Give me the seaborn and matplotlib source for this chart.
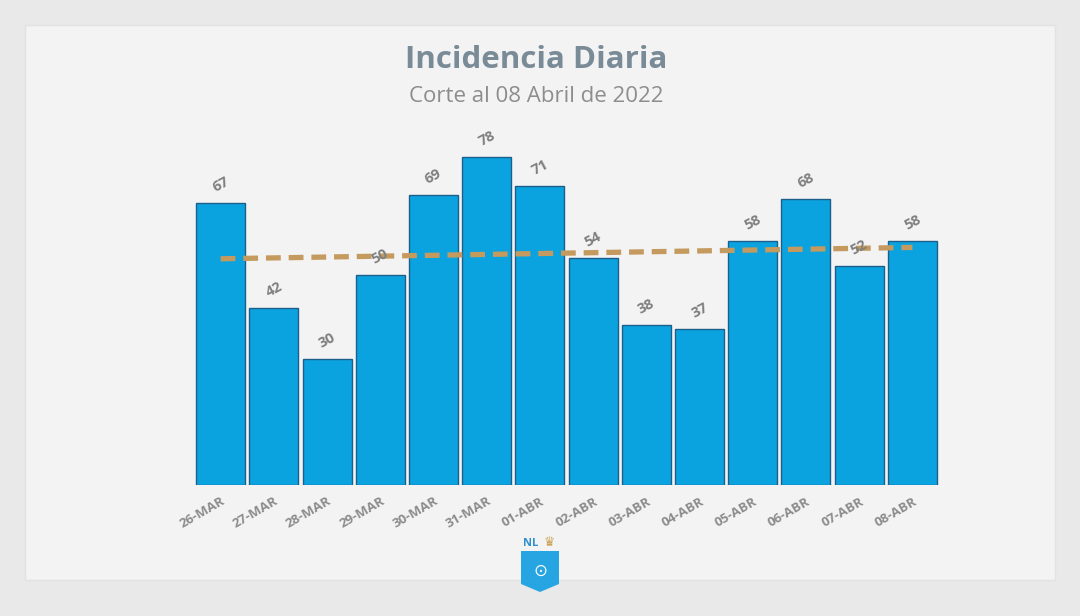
import matplotlib
matplotlib.use("Agg")
import matplotlib.pyplot as plt
from matplotlib.patches import Rectangle, Polygon
import seaborn as sns
import pandas as pd

dates = ["26-MAR", "27-MAR", "28-MAR", "29-MAR", "30-MAR", "31-MAR", "01-ABR",
         "02-ABR", "03-ABR", "04-ABR", "05-ABR", "06-ABR", "07-ABR", "08-ABR"]
cases = [67, 42, 30, 50, 69, 78, 71, 54, 38, 37, 58, 68, 52, 58]
trend_ends = [53.8, 56.5]

title = "Incidencia Diaria"
subtitle = "Corte al 08 Abril de 2022"

sns.set_style("white")
plt.rcParams['font.family'] = ['Open Sans', 'DejaVu Sans']

fig = plt.figure(figsize=(10.8, 6.16), dpi=100)
fig.patch.set_facecolor("#e9e9e9")
# card
card = Rectangle((25/1080, 1-580/616), 1030/1080, 555/616,
                 transform=fig.transFigure, facecolor="#f3f3f3",
                 edgecolor="#e2e2e2", linewidth=1, zorder=-10)
fig.add_artist(card)

ax = fig.add_axes([194/1080, 1-485/616, 745/1080, (90*4.205)/616])
ax.set_zorder(2)
ax.set_facecolor("none")
df = pd.DataFrame({"fecha": dates, "casos": cases})
sns.barplot(data=df, x="fecha", y="casos", color="#0aa3e0", saturation=1,
            width=0.92, edgecolor="#1d5f8a", linewidth=1.0, ax=ax, zorder=2)
ax.set_xlim(-0.5, len(dates) - 0.5)
ax.set_ylim(0, 90)

for c in ax.containers:
    ax.bar_label(c, labels=[str(v) for v in cases], padding=6, rotation=28,
                 color="#7f7f7f", fontsize=10.5, fontweight="bold", zorder=4)

ax.plot([0, len(dates) - 1], trend_ends, linestyle=(0, (2.8, 1.5)),
        color="#c49a5e", linewidth=3.8, zorder=3)

ax.set_xlabel("")
ax.set_ylabel("")
ax.set_yticks([])
ax.tick_params(axis="x", length=0, pad=7)
for lbl in ax.get_xticklabels():
    lbl.set_rotation(30)
    lbl.set_ha("right")
    lbl.set_rotation_mode("anchor")
    lbl.set_color("#8c8c8c")
    lbl.set_fontsize(9.5)
    lbl.set_fontweight("bold")
for s in ax.spines.values():
    s.set_visible(False)

fig.text(536/1080, 1-60/616, title, ha="center", va="center",
         fontsize=22.5, fontweight="bold", color="#7a8b98")
fig.text(536/1080, 1-96/616, subtitle, ha="center", va="center",
         fontsize=16, color="#8d8d8d")

# logo
shield = Polygon([(521/1080, 1-551/616), (559/1080, 1-551/616), (559/1080, 1-584/616),
                  (540/1080, 1-592/616), (521/1080, 1-584/616)], closed=True,
                 transform=fig.transFigure, facecolor="#27a5e3", edgecolor="none", zorder=5)
fig.add_artist(shield)
fig.text(531/1080, 1-543/616, "NL", ha="center", va="center", fontsize=8,
         fontweight="bold", color="#2b8fd0", zorder=6)
fig.text(549/1080, 1-543/616, "\u265b", ha="center", va="center", fontsize=9,
         color="#c9a14f", family=["DejaVu Sans"], zorder=6)
fig.text(540/1080, 1-571/616, "\u2299", ha="center", va="center", fontsize=12,
         color="white", family=["DejaVu Sans"], zorder=6)

fig.savefig("out.png", dpi=100, facecolor=fig.get_facecolor())
